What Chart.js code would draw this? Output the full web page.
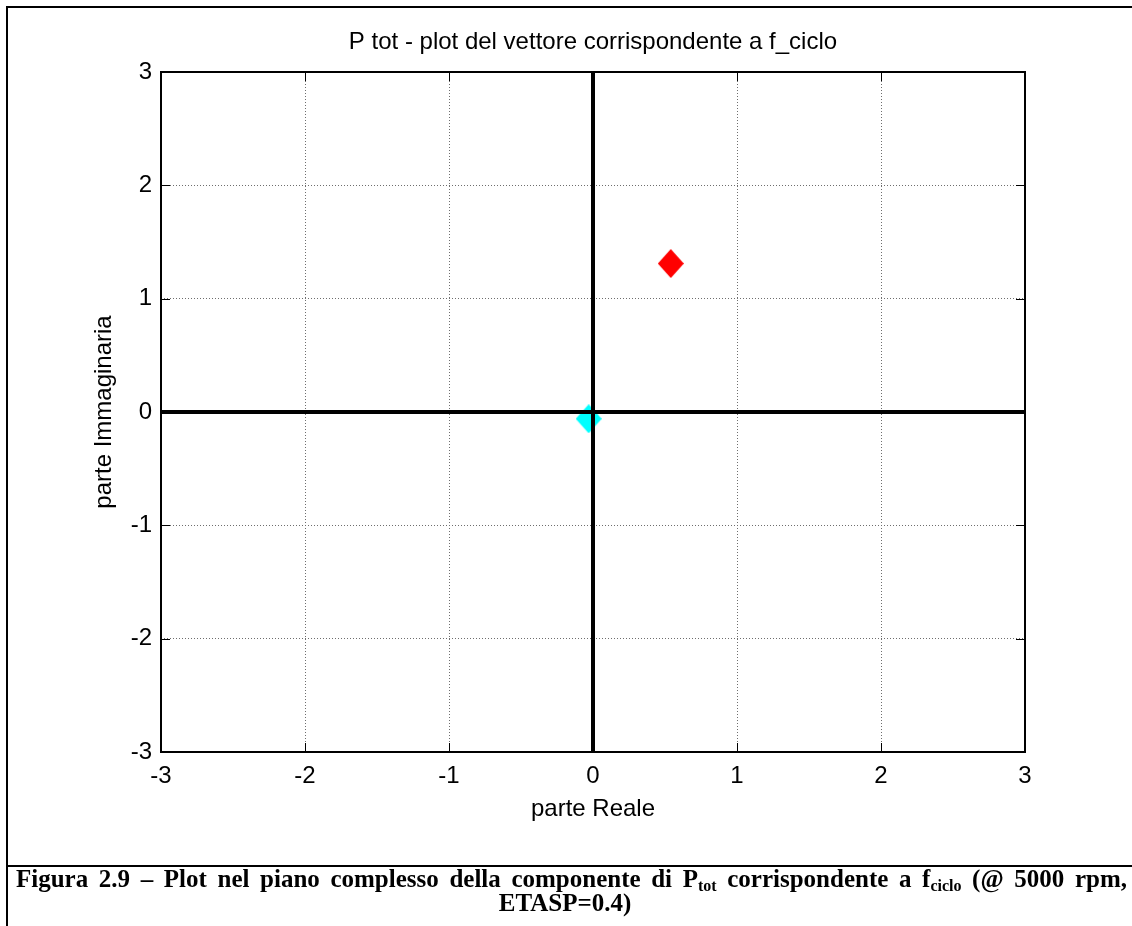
<!DOCTYPE html>
<html>
<head>
<meta charset="utf-8">
<title>P tot - plot del vettore corrispondente a f_ciclo</title>
<script src="https://cdn.jsdelivr.net/npm/chart.js@4"></script>
<style>
  html, body { margin: 0; padding: 0; background: #fff; }
  #page { position: relative; width: 1132px; height: 926px; overflow: hidden; background: #fff; }
  #plot { position: absolute; left: 0; top: 0; }
  .rule { position: absolute; background: #000; }
  .cap {
    position: absolute; color: #000; white-space: nowrap;
    font: bold 25px "Liberation Serif", "Times New Roman", serif;
    line-height: 24px;
  }
  #cap1 {
    left: 16px; width: 1111px; top: 867px;
    text-align: justify; text-align-last: justify; white-space: normal;
  }
  #cap2 { left: 8px; width: 1114px; top: 891px; text-align: center; }
  .cap sub { font-size: 16px; line-height: 0; vertical-align: -4px; }
</style>
</head>
<body>
<div id="page">
  <canvas id="plot" width="1132" height="860"></canvas>
  <div class="rule" style="left:6px;top:6px;width:1126px;height:2px"></div>
  <div class="rule" style="left:6px;top:6px;width:2px;height:920px"></div>
  <div class="rule" style="left:6px;top:865px;width:1126px;height:2px"></div>
  <div class="cap" id="cap1">Figura 2.9 – Plot nel piano complesso della componente di P<sub>tot</sub> corrispondente a f<sub>ciclo</sub> (@ 5000 rpm,</div>
  <div class="cap" id="cap2">ETASP=0.4)</div>
</div>
<script>
// Axis ticks (real and imaginary parts)
const realTicks = [-3, -2, -1, 0, 1, 2, 3];
const imagTicks = [-3, -2, -1, 0, 1, 2, 3];
// Extent of the reference axes drawn through the origin
const axisSpan = [-3, 3];
// Complex component of P_tot at f_ciclo
const vectorRe = [0.54];
const vectorIm = [1.31];
// Marker near the origin
const originRe = [-0.03];
const originIm = [-0.06];

const FONT = '"Liberation Sans", Arial, sans-serif';

// Filled diamond marker, a little taller than wide
function diamond(color, w, h) {
  const c = document.createElement('canvas');
  c.width = w; c.height = h;
  const g = c.getContext('2d');
  g.fillStyle = color;
  g.beginPath();
  g.moveTo(w / 2, 0);
  g.lineTo(w, h / 2);
  g.lineTo(w / 2, h);
  g.lineTo(0, h / 2);
  g.closePath();
  g.fill();
  return c;
}

// Box around the axes with inward tick marks on all four sides
const axesBox = {
  id: 'axesBox',
  afterDraw(chart) {
    const { ctx, chartArea: a, scales: { x, y } } = chart;
    const len = 9;
    ctx.save();
    ctx.strokeStyle = '#000';
    ctx.lineWidth = 1;
    ctx.beginPath();
    realTicks.forEach(v => {
      const px = Math.round(x.getPixelForValue(v)) + 0.5;
      ctx.moveTo(px, a.bottom); ctx.lineTo(px, a.bottom - len);
      ctx.moveTo(px, a.top); ctx.lineTo(px, a.top + len);
    });
    imagTicks.forEach(v => {
      const py = Math.round(y.getPixelForValue(v)) + 0.5;
      ctx.moveTo(a.left, py); ctx.lineTo(a.left + len, py);
      ctx.moveTo(a.right, py); ctx.lineTo(a.right - len, py);
    });
    ctx.stroke();
    ctx.lineWidth = 2;
    ctx.strokeRect(a.left, a.top, a.right - a.left, a.bottom - a.top);
    ctx.restore();
  }
};

new Chart(document.getElementById('plot'), {
  type: 'scatter',
  data: {
    datasets: [
      {
        label: 'asse reale',
        data: axisSpan.map(v => ({ x: v, y: 0 })),
        showLine: true, borderColor: '#000', borderWidth: 4,
        pointRadius: 0, borderCapStyle: 'butt'
      },
      {
        label: 'asse immaginario',
        data: axisSpan.map(v => ({ x: 0, y: v })),
        showLine: true, borderColor: '#000', borderWidth: 4,
        pointRadius: 0, borderCapStyle: 'butt'
      },
      {
        label: 'origine',
        data: originRe.map((v, i) => ({ x: v, y: originIm[i] })),
        pointStyle: diamond('#00ffff', 26, 29),
        backgroundColor: '#00ffff', borderColor: '#00ffff'
      },
      {
        label: 'P tot',
        data: vectorRe.map((v, i) => ({ x: v, y: vectorIm[i] })),
        pointStyle: diamond('#ff0000', 26, 29),
        backgroundColor: '#ff0000', borderColor: '#ff0000'
      }
    ]
  },
  options: {
    responsive: false,
    animation: false,
    events: [],
    layout: { padding: { left: 0, right: 107, top: 0, bottom: 0 } },
    plugins: {
      legend: { display: false },
      tooltip: { enabled: false },
      title: {
        display: true,
        fullSize: false,
        text: 'P tot - plot del vettore corrispondente a f_ciclo',
        color: '#000',
        font: { family: FONT, size: 24, weight: 'normal', lineHeight: 1.2 },
        padding: { top: 27.6, bottom: 15.6 }
      }
    },
    scales: {
      x: {
        type: 'linear', min: -3, max: 3,
        afterBuildTicks: s => { s.ticks = realTicks.map(v => ({ value: v })); },
        afterFit: s => { s.height = 108; },
        ticks: {
          color: '#000', padding: 10,
          font: { family: FONT, size: 24 },
          callback: v => String(v)
        },
        grid: { color: '#6e6e6e', lineWidth: 1, drawTicks: false },
        border: { display: false, dash: [1, 2] },
        title: {
          display: true, text: 'parte Reale', color: '#000',
          font: { family: FONT, size: 24, lineHeight: 1.2 },
          padding: { top: 0, bottom: 36.6 }
        }
      },
      y: {
        type: 'linear', min: -3, max: 3,
        afterBuildTicks: s => { s.ticks = imagTicks.map(v => ({ value: v })); },
        afterFit: s => { s.width = 161; },
        ticks: {
          color: '#000', padding: 9,
          font: { family: FONT, size: 24 },
          callback: v => String(v)
        },
        grid: { color: '#6e6e6e', lineWidth: 1, drawTicks: false },
        border: { display: false, dash: [1, 2] },
        title: {
          display: true, text: 'parte Immaginaria', color: '#000',
          font: { family: FONT, size: 24, lineHeight: 1.2 },
          padding: { top: 90, bottom: 0 }
        }
      }
    }
  },
  plugins: [axesBox]
});
</script>
</body>
</html>
